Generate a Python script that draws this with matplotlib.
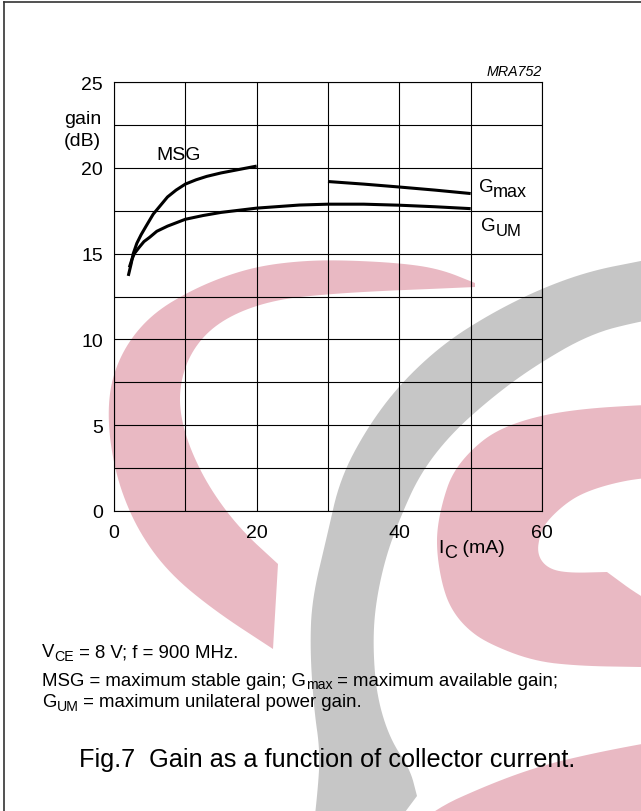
import numpy as np
import matplotlib
matplotlib.use("Agg")
import matplotlib.pyplot as plt
from matplotlib.patches import Polygon

plt.rcParams["font.family"] = ["Liberation Sans", "DejaVu Sans"]

# curve data (IC in mA, gain in dB)
msg_ic = [2.0, 2.4, 2.7, 3.2, 3.8, 4.5, 5.5, 6.5, 7.5, 8.7, 10, 11.5, 13, 15, 17.5, 20]
msg_gain = [13.7, 14.4, 15.0, 15.6, 16.1, 16.6, 17.3, 17.8, 18.3, 18.7, 19.05, 19.3, 19.5, 19.7, 19.9, 20.1]

gum_ic = [2.15, 2.5, 2.85, 3.5, 4.2, 5, 6, 7.5, 10, 12.5, 15, 20, 26, 30, 35, 40, 45, 50]
gum_gain = [14.2, 14.65, 15.0, 15.35, 15.7, 15.95, 16.3, 16.6, 17.0, 17.22, 17.4, 17.65, 17.83, 17.88,
            17.88, 17.82, 17.73, 17.62]

gmax_ic = [30, 35, 40, 45, 50]
gmax_gain = [19.2, 19.05, 18.88, 18.7, 18.5]

x_ticks = [0, 20, 40, 60]
y_ticks = [0, 5, 10, 15, 20, 25]

PINK = "#E9B9C3"
GREY = "#C6C6C6"

# watermark outlines in page pixels (x right, y down); points past the page edge
# keep the rounding off-canvas, repeated points keep the band ends sharp
PINK_LEFT = [(475, 284), (475, 284), (440, 270), (400, 264), (340, 261), (300, 262), (260, 267),
             (225, 277), (190, 292), (155, 313), (130, 340), (114, 372), (108, 405),
             (110, 445), (120, 490), (140, 535), (170, 575), (215, 612), (273, 650), (273, 650),
             (273, 650), (278, 565), (278, 565), (278, 565), (240, 530), (210, 490), (190, 450),
             (180, 415), (180, 385), (190, 355), (210, 330), (240, 312), (280, 300), (330, 295),
             (380, 292), (430, 290), (475, 288), (475, 288)]
GREY_ARC = [(700, 250), (641, 262), (590, 272), (540, 290), (490, 315), (443, 345), (400, 385),
            (367, 429), (340, 480), (327, 537), (312, 600), (310, 650), (314, 710),
            (320, 752), (318, 790), (310, 860), (310, 860), (370, 860), (370, 860), (417, 797),
            (417, 797), (410, 770), (390, 740), (377, 698), (373, 650), (375, 608), (385, 560),
            (400, 519), (420, 475), (450, 436), (490, 400), (533, 368), (590, 335), (641, 322),
            (700, 312)]
PINK_RIGHT = [(700, 404), (641, 406), (580, 410), (533, 418), (495, 432), (470, 452), (452, 475),
              (443, 501), (437, 530), (437, 555), (442, 585), (450, 608), (465, 628),
              (487, 644), (533, 662), (580, 667), (641, 668), (700, 669), (700, 669),
              (700, 630), (700, 630), (641, 598), (607, 573), (607, 573),
              (567, 574), (547, 569), (537, 555), (540, 535), (547, 522), (565, 505),
              (583, 494), (610, 485), (641, 479), (700, 475), (700, 475)]
PINK_BOTTOM = [(700, 735), (641, 745), (590, 755), (540, 767), (490, 785), (430, 812),
               (380, 860), (380, 860), (700, 860), (700, 860)]


def chaikin(pts, rounds=3):
    p = np.asarray(pts, dtype=float)
    for _ in range(rounds):
        q = np.roll(p, -1, axis=0)
        p = np.column_stack([0.75 * p + 0.25 * q, 0.25 * p + 0.75 * q]).reshape(-1, 2)
    return p


def chain(ax, x, y, pieces, ytrans):
    # pieces: (text, fontsize, baseline shift in points); each starts where the last ended
    first, fs, dy = pieces[0]
    prev = ax.annotate(first, xy=(x, y), xycoords=(ax.transData, ytrans), xytext=(0, dy),
                       textcoords="offset points", fontsize=fs, va="baseline", ha="left")
    for txt, fs, dy in pieces[1:]:
        prev = ax.annotate(txt, xy=(1, y), xycoords=(prev, ytrans), xytext=(0, dy),
                           textcoords="offset points", fontsize=fs, va="baseline", ha="left")


fig = plt.figure(figsize=(6.41, 8.12), dpi=100)
fig.patch.set_facecolor("white")

page = fig.add_axes([0, 0, 1, 1], zorder=0)
page.set_xlim(0, 641)
page.set_ylim(812, 0)
page.axis("off")
for pts, col in ((PINK_LEFT, PINK), (GREY_ARC, GREY), (PINK_RIGHT, PINK), (PINK_BOTTOM, PINK)):
    page.add_patch(Polygon(chaikin(pts), closed=True, facecolor=col, edgecolor="none"))
page.plot([4, 4], [3, 812], color="#333333", lw=1.2)
page.plot([4, 641], [3, 3], color="#333333", lw=1.2)

ax = fig.add_axes([114 / 641, 1 - 512 / 812, 428 / 641, 429 / 812], zorder=1)
ax.set_facecolor("none")
ax.set_xlim(0, 60)
ax.set_ylim(0, 25)
ax.set_xticks(np.arange(0, 61, 10))
ax.set_yticks(np.arange(0, 25.1, 2.5))
ax.set_xticklabels([str(v) if v in x_ticks else "" for v in range(0, 61, 10)])
ax.set_yticklabels([str(int(v)) if v in y_ticks else "" for v in np.arange(0, 25.1, 2.5)])
ax.tick_params(length=0, labelsize=14)
ax.tick_params(axis="x", pad=9)
ax.tick_params(axis="y", pad=8)
ax.grid(True, color="black", lw=0.8)
for s in ax.spines.values():
    s.set_linewidth(0.8)

for xs, ys in ((msg_ic, msg_gain), (gum_ic, gum_gain), (gmax_ic, gmax_gain)):
    ax.plot(xs, ys, color="black", lw=2.2, solid_capstyle="butt", solid_joinstyle="round")

ax.text(5.9, 20.51, "MSG", fontsize=14, ha="left", va="baseline")
chain(ax, 51.1, 18.63, [("G", 13.5, 0), ("max", 13.0, -3.6)], ax.transData)
chain(ax, 51.5, 16.39, [("G", 13.5, 0), ("UM", 12.0, -3.8)], ax.transData)
ax.text(60, 25.41, "MRA752", fontsize=10.3, style="italic", ha="right", va="baseline")
ax.text(-1.8, 22.61, "gain", fontsize=14, ha="right", va="baseline")
ax.text(-1.8, 21.33, "(dB)", fontsize=14, ha="right", va="baseline")
chain(ax, 45.5, -2.39, [("I", 14, 0), ("C", 13, -3.6), (" (mA)", 14, 0)], ax.transData)

# notes and caption under the graph (page pixel coordinates)
chain(page, 42, 657.3, [("V", 13.4, 0), ("CE", 10.2, -2.4), (" = 8 V; f = 900 MHz.", 13.4, 0)],
      page.transData)
chain(page, 42, 685.7, [("MSG = maximum stable gain; G", 13.4, 0), ("max", 10.2, -2.4),
                        (" = maximum available gain;", 13.4, 0)], page.transData)
chain(page, 42, 707.3, [("G", 13.4, 0), ("UM", 10.2, -2.4),
                        (" = maximum unilateral power gain.", 13.4, 0)], page.transData)
page.text(79, 766.7, "Fig.7  Gain as a function of collector current.", fontsize=18.2,
          ha="left", va="baseline")

fig.savefig("out.png", dpi=100)
